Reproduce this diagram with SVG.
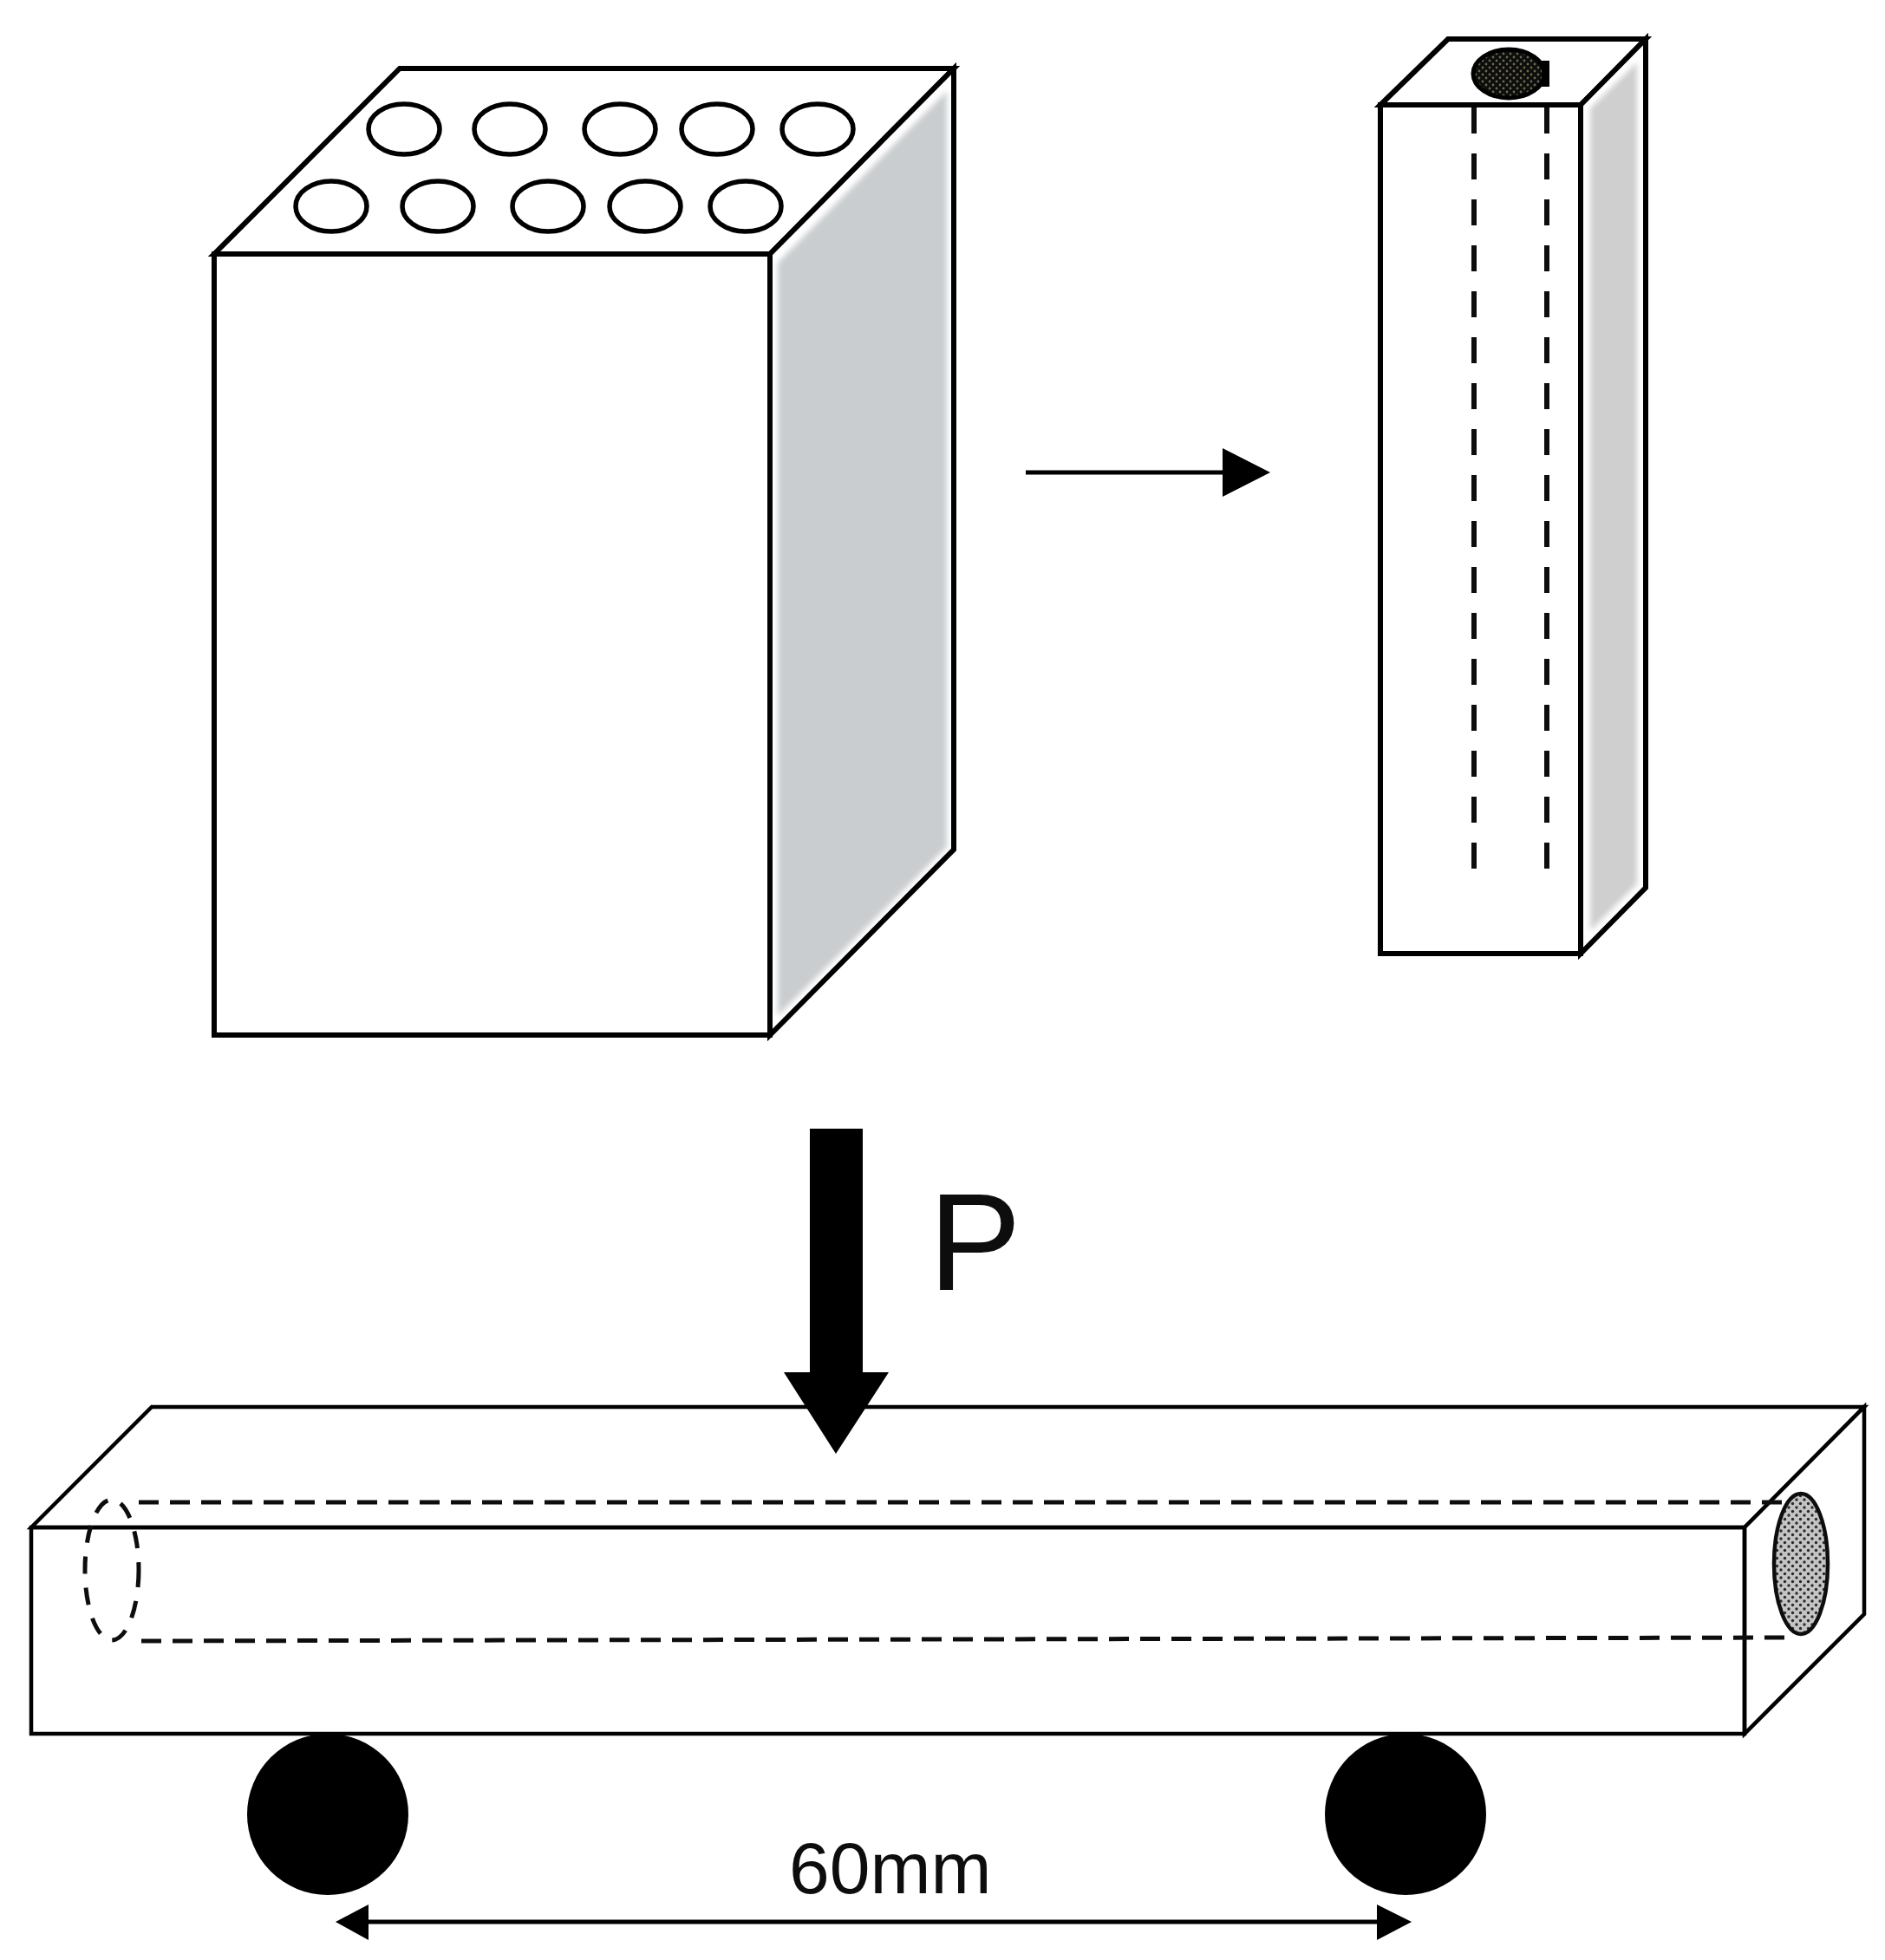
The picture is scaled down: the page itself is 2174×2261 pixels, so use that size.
<svg xmlns="http://www.w3.org/2000/svg" width="2174" height="2261" viewBox="0 0 2174 2261">
<style>
.ln{fill:none;stroke:#000;stroke-linejoin:miter}
.face{fill:#fff;stroke:#000;stroke-width:6;stroke-linejoin:miter}
.thin{fill:#fff;stroke:#000;stroke-width:4.5;stroke-linejoin:miter}
.hole{fill:#fff;stroke:#000;stroke-width:5.5}
.dash{fill:none;stroke:#111;stroke-width:6;stroke-dasharray:30 23}
.dash2{fill:none;stroke:#111;stroke-width:5;stroke-dasharray:23 13}
.t{font-family:"Liberation Sans",Arial,sans-serif;fill:#111}
</style>
<defs>
<filter id="soft" x="-5%" y="-5%" width="110%" height="110%"><feGaussianBlur stdDeviation="0.7"/></filter>
<filter id="softer" x="-10%" y="-10%" width="120%" height="120%"><feGaussianBlur stdDeviation="3"/></filter>
<pattern id="darkdots" width="8" height="8" patternUnits="userSpaceOnUse"><rect width="8" height="8" fill="#0d0d08"/><circle cx="2" cy="2" r="1.4" fill="#6a6a50"/><circle cx="6" cy="6" r="1.4" fill="#6a6a50"/></pattern>
<pattern id="speck" width="9" height="9" patternUnits="userSpaceOnUse"><rect width="9" height="9" fill="#c4c4c4"/><circle cx="2" cy="2" r="1.7" fill="#2a2a2a"/><circle cx="6.5" cy="6.5" r="1.7" fill="#2a2a2a"/></pattern>
</defs>
<rect width="2174" height="2261" fill="#fff"/>
<g filter="url(#soft)">
<g id="large-block">
<polygon class="face" points="247,293 461,79 1100,79 888,293"/>
<polygon points="888,293 1100,79 1100,980 888,1194" fill="#fff"/>
<polygon points="897,303 1092,105 1092,977 897,1172" fill="#c9cdcf" filter="url(#softer)"/>
<polygon class="ln" stroke-width="6" points="888,293 1100,79 1100,980 888,1194"/>
<rect class="face" x="247" y="293" width="641" height="901"/>
<ellipse class="hole" cx="466" cy="149" rx="41" ry="29"/>
<ellipse class="hole" cx="588" cy="149" rx="41" ry="29"/>
<ellipse class="hole" cx="715" cy="149" rx="41" ry="29"/>
<ellipse class="hole" cx="827" cy="149" rx="41" ry="29"/>
<ellipse class="hole" cx="943" cy="149" rx="41" ry="29"/>
<ellipse class="hole" cx="382" cy="238" rx="41" ry="29"/>
<ellipse class="hole" cx="505" cy="238" rx="41" ry="29"/>
<ellipse class="hole" cx="632" cy="238" rx="41" ry="29"/>
<ellipse class="hole" cx="744" cy="238" rx="41" ry="29"/>
<ellipse class="hole" cx="860" cy="238" rx="41" ry="29"/>
</g>
<g id="small-block">
<polygon class="face" points="1592,121 1670,45 1898,45 1823,121"/>
<polygon points="1823,121 1898,45 1898,1024 1823,1100" fill="#fff"/>
<polygon points="1834,125 1888,72 1888,1020 1834,1074" fill="#cfcfcf" filter="url(#softer)"/>
<polygon class="ln" stroke-width="6" points="1823,121 1898,45 1898,1024 1823,1100"/>
<rect class="face" x="1592" y="121" width="231" height="979"/>
<rect x="1775" y="70" width="12" height="30" fill="#000"/>
<ellipse cx="1740" cy="85" rx="41" ry="28" fill="url(#darkdots)" stroke="#000" stroke-width="5"/>
<line class="dash" x1="1700" y1="124" x2="1700" y2="1002"/>
<line class="dash" x1="1784" y1="124" x2="1784" y2="1002"/>
</g>
<g id="beam">
<polygon class="thin" points="36,1762 175,1623 2150,1623 2012,1762"/>
<polygon class="thin" points="2012,1762 2150,1623 2150,1862 2012,2000"/>
<rect class="thin" x="36" y="1762" width="1976" height="238" style="fill:none"/>
<ellipse cx="129" cy="1811" rx="31" ry="81" fill="none" stroke="#111" stroke-width="5" stroke-dasharray="20 16"/>
<line class="dash2" x1="160" y1="1733" x2="2056" y2="1733"/>
<line class="dash2" x1="163" y1="1893" x2="2070" y2="1889"/>
<ellipse cx="2077" cy="1804" rx="31" ry="81" fill="url(#speck)" stroke="#111" stroke-width="4.5"/>
</g>
<g id="support-left"><circle cx="378" cy="2093" r="93" fill="#000"/></g>
<g id="support-right"><circle cx="1621" cy="2093" r="93" fill="#000"/></g>
<g id="connectors">
<line class="ln" stroke-width="5" x1="1183" y1="545" x2="1415" y2="545"/>
<polygon points="1465,545 1410,517 1410,573" fill="#000"/>
<polygon points="934,1302 995,1302 995,1583 1025,1583 964,1677 904,1583 934,1583" fill="#000"/>
<line class="ln" stroke-width="5" x1="420" y1="2217" x2="1592" y2="2217"/>
<polygon points="387,2217 425,2197 425,2238" fill="#000"/>
<polygon points="1628,2217 1588,2197 1588,2238" fill="#000"/>
</g>
<g id="labels">
<text class="t" x="1071" y="1488" font-size="160">P</text>
<text class="t" x="910" y="2184" font-size="84">60mm</text>
</g>
</g>
</svg>
